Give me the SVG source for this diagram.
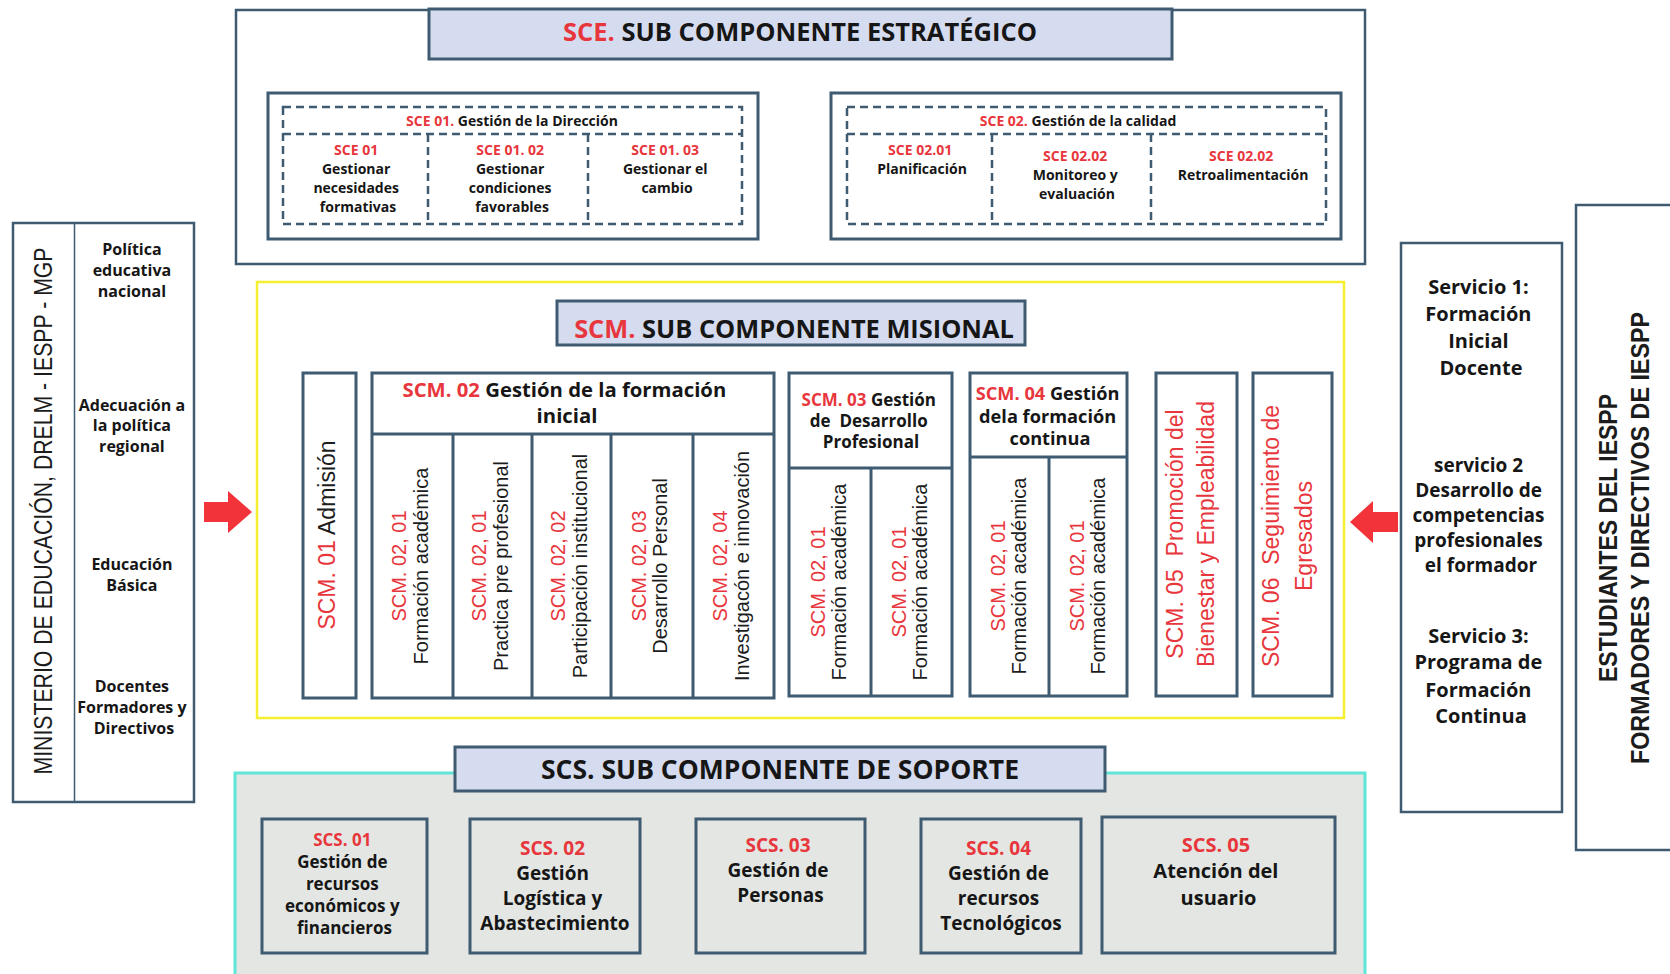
<svg xmlns="http://www.w3.org/2000/svg" width="1670" height="974" viewBox="0 0 1670 974">
  <style>
    .frame{fill:#fff;stroke:#3f5b71;stroke-width:3}
    .thin{fill:#fff;stroke:#3f5b71;stroke-width:2.5}
    .head{fill:#d6dcf0;stroke:#3f5b71;stroke-width:3}
    .gray{fill:#e3e6e2;stroke:#3f5b71;stroke-width:3}
    .dash{fill:none;stroke:#3f5b71;stroke-width:2.5;stroke-dasharray:8 5}
    .sep{stroke:#3f5b71;stroke-width:3}
    .b{font-family:"Open Sans","DejaVu Sans",sans-serif;font-weight:700;fill:#161616;text-anchor:middle}
    .v{font-family:"Liberation Sans",Arial,sans-serif;fill:#1c1c1c;text-anchor:middle}
    .r{fill:#e8363d}
    .arrow{fill:#f2333a}
  </style>

  <!-- Estratégico -->
  <g id="sce">
    <rect x="236" y="10" width="1129" height="254" class="thin"/>
    <rect x="429" y="9" width="743" height="50" class="head"/>
    <text x="800" y="41" class="b" font-size="25.5"><tspan class="r">SCE.</tspan> SUB COMPONENTE ESTRATÉGICO</text>
  </g>

  <g id="sce01">
    <rect x="268" y="93" width="490" height="146" class="frame"/>
    <rect x="283" y="107" width="459" height="117" class="dash"/>
    <line x1="283" y1="134" x2="742" y2="134" class="dash"/>
    <line x1="428" y1="134" x2="428" y2="224" class="dash"/>
    <line x1="588" y1="134" x2="588" y2="224" class="dash"/>
    <text x="512" y="126" class="b" font-size="14"><tspan class="r">SCE 01.</tspan> Gestión de la Dirección</text>
    <text class="b" font-size="14">
      <tspan x="358" y="155" class="r">SCE 01</tspan>
      <tspan x="358" y="174">Gestionar</tspan>
      <tspan x="358" y="193">necesidades</tspan>
      <tspan x="358" y="212">formativas</tspan>
    </text>
    <text class="b" font-size="14">
      <tspan x="512" y="155" class="r">SCE 01. 02</tspan>
      <tspan x="512" y="174">Gestionar</tspan>
      <tspan x="512" y="193">condiciones</tspan>
      <tspan x="512" y="212">favorables</tspan>
    </text>
    <text class="b" font-size="14">
      <tspan x="667" y="155" class="r">SCE 01. 03</tspan>
      <tspan x="667" y="174">Gestionar el</tspan>
      <tspan x="667" y="193">cambio</tspan>
    </text>
  </g>

  <g id="sce02">
    <rect x="831" y="93" width="510" height="146" class="frame"/>
    <rect x="847" y="107" width="479" height="117" class="dash"/>
    <line x1="847" y1="134" x2="1326" y2="134" class="dash"/>
    <line x1="992" y1="134" x2="992" y2="224" class="dash"/>
    <line x1="1151" y1="134" x2="1151" y2="224" class="dash"/>
    <text x="1078" y="126" class="b" font-size="14"><tspan class="r">SCE 02.</tspan> Gestión de la calidad</text>
    <text class="b" font-size="14">
      <tspan x="922" y="155" class="r">SCE 02.01</tspan>
      <tspan x="922" y="174">Planificación</tspan>
    </text>
    <text class="b" font-size="14">
      <tspan x="1077" y="161" class="r">SCE 02.02</tspan>
      <tspan x="1077" y="180">Monitoreo y</tspan>
      <tspan x="1077" y="199">evaluación</tspan>
    </text>
    <text class="b" font-size="14">
      <tspan x="1243" y="161" class="r">SCE 02.02</tspan>
      <tspan x="1243" y="180">Retroalimentación</tspan>
    </text>
  </g>

  <!-- Misional -->
  <g id="scm">
    <rect x="257" y="282" width="1087" height="436" fill="#fff" stroke="#f5ef2f" stroke-width="2.5"/>
    <rect x="557" y="301" width="468" height="44" class="head"/>
    <text x="794" y="338" class="b" font-size="25.4"><tspan class="r">SCM.</tspan> SUB COMPONENTE MISIONAL</text>
  </g>

  <g id="scm01">
    <rect x="303" y="373" width="53" height="325" class="frame"/>
    <g transform="translate(329,535) rotate(-90)">
      <text y="6" class="v" font-size="23"><tspan class="r">SCM. 01</tspan> Admisión</text>
    </g>
  </g>

  <g id="scm02">
    <rect x="372" y="373" width="402" height="325" class="frame"/>
    <line x1="372" y1="434" x2="774" y2="434" class="sep"/>
    <line x1="453" y1="434" x2="453" y2="698" class="sep"/>
    <line x1="532" y1="434" x2="532" y2="698" class="sep"/>
    <line x1="611" y1="434" x2="611" y2="698" class="sep"/>
    <line x1="693" y1="434" x2="693" y2="698" class="sep"/>
    <text class="b" font-size="20.3">
      <tspan x="567" y="397"><tspan class="r">SCM. 02</tspan> Gestión de la formación</tspan>
      <tspan x="567" y="423">inicial</tspan>
    </text>
    <g transform="translate(412.5,566) rotate(-90)" class="v" font-size="20">
      <text y="-6.5" class="r">SCM. 02, 01</text>
      <text y="15">Formación académica</text>
    </g>
    <g transform="translate(492.5,566) rotate(-90)" class="v" font-size="20">
      <text y="-6.5" class="r">SCM. 02, 01</text>
      <text y="15">Practica pre profesional</text>
    </g>
    <g transform="translate(571.5,566) rotate(-90)" class="v" font-size="20">
      <text y="-6.5" class="r">SCM. 02, 02</text>
      <text y="15">Participación institucional</text>
    </g>
    <g transform="translate(652,566) rotate(-90)" class="v" font-size="20">
      <text y="-6.5" class="r">SCM. 02, 03</text>
      <text y="15">Desarrollo Personal</text>
    </g>
    <g transform="translate(733.5,566) rotate(-90)" class="v" font-size="20">
      <text y="-6.5" class="r">SCM. 02, 04</text>
      <text y="15">Investigacón e innovación</text>
    </g>
  </g>

  <g id="scm03">
    <rect x="789" y="373" width="163" height="323" class="frame"/>
    <line x1="789" y1="468" x2="952" y2="468" class="sep"/>
    <line x1="871" y1="468" x2="871" y2="696" class="sep"/>
    <text class="b" font-size="17">
      <tspan x="871" y="406"><tspan class="r">SCM. 03</tspan> Gestión</tspan>
      <tspan x="871" y="427">de&#160; Desarrollo</tspan>
      <tspan x="871" y="448">Profesional</tspan>
    </text>
    <g transform="translate(830,582) rotate(-90)" class="v" font-size="20">
      <text y="-5" class="r">SCM. 02, 01</text>
      <text y="16">Formación académica</text>
    </g>
    <g transform="translate(911,582) rotate(-90)" class="v" font-size="20">
      <text y="-5" class="r">SCM. 02, 01</text>
      <text y="16">Formación académica</text>
    </g>
  </g>

  <g id="scm04">
    <rect x="970" y="373" width="157" height="323" class="frame"/>
    <line x1="970" y1="457" x2="1127" y2="457" class="sep"/>
    <line x1="1049" y1="457" x2="1049" y2="696" class="sep"/>
    <text class="b" font-size="18.2">
      <tspan x="1050" y="400"><tspan class="r">SCM. 04</tspan> Gestión</tspan>
      <tspan x="1050" y="423">dela formación</tspan>
      <tspan x="1050" y="445">continua</tspan>
    </text>
    <g transform="translate(1009.5,576) rotate(-90)" class="v" font-size="20">
      <text y="-5" class="r">SCM. 02, 01</text>
      <text y="16">Formación académica</text>
    </g>
    <g transform="translate(1088.5,576) rotate(-90)" class="v" font-size="20">
      <text y="-5" class="r">SCM. 02, 01</text>
      <text y="16">Formación académica</text>
    </g>
  </g>

  <g id="scm05">
    <rect x="1156" y="373" width="81" height="323" class="frame"/>
    <g transform="translate(1196.5,534) rotate(-90)" class="v" font-size="23">
      <text y="-14" class="r">SCM. 05&#160; Promoción del</text>
      <text y="17" class="r">Bienestar y Empleabilidad</text>
    </g>
  </g>

  <g id="scm06">
    <rect x="1253" y="373" width="79" height="323" class="frame"/>
    <g transform="translate(1292.5,536) rotate(-90)" class="v" font-size="23">
      <text y="-14" class="r">SCM. 06&#160; Seguimiento de</text>
      <text y="19" class="r">Egresados</text>
    </g>
  </g>

  <!-- Soporte -->
  <g id="scs">
    <rect x="235" y="773" width="1130" height="230" fill="#e3e6e2" stroke="#5fe6d9" stroke-width="3"/>
    <rect x="455" y="747" width="650" height="44" class="head"/>
    <text x="780" y="779" class="b" font-size="26.5">SCS. SUB COMPONENTE DE SOPORTE</text>
  </g>

  <g id="scs01">
    <rect x="262" y="819" width="165" height="134" class="gray"/>
    <text class="b" font-size="17">
      <tspan x="344.5" y="846" class="r">SCS. 01</tspan>
      <tspan x="344.5" y="868">Gestión de</tspan>
      <tspan x="344.5" y="890">recursos</tspan>
      <tspan x="344.5" y="912">económicos y</tspan>
      <tspan x="344.5" y="934">financieros</tspan>
    </text>
  </g>
  <g id="scs02">
    <rect x="470" y="819" width="170" height="134" class="gray"/>
    <text class="b" font-size="19">
      <tspan x="555" y="855" class="r">SCS. 02</tspan>
      <tspan x="555" y="880">Gestión</tspan>
      <tspan x="555" y="905">Logística y</tspan>
      <tspan x="555" y="930">Abastecimiento</tspan>
    </text>
  </g>
  <g id="scs03">
    <rect x="696" y="819" width="169" height="134" class="gray"/>
    <text class="b" font-size="19">
      <tspan x="780.5" y="852" class="r">SCS. 03</tspan>
      <tspan x="780.5" y="877">Gestión de</tspan>
      <tspan x="780.5" y="902">Personas</tspan>
    </text>
  </g>
  <g id="scs04">
    <rect x="921" y="819" width="160" height="134" class="gray"/>
    <text class="b" font-size="19">
      <tspan x="1001" y="855" class="r">SCS. 04</tspan>
      <tspan x="1001" y="880">Gestión de</tspan>
      <tspan x="1001" y="905">recursos</tspan>
      <tspan x="1001" y="930">Tecnológicos</tspan>
    </text>
  </g>
  <g id="scs05">
    <rect x="1102" y="817" width="233" height="136" class="gray"/>
    <text class="b" font-size="20">
      <tspan x="1218.5" y="852" class="r">SCS. 05</tspan>
      <tspan x="1218.5" y="878">Atención del</tspan>
      <tspan x="1218.5" y="905">usuario</tspan>
    </text>
  </g>

  <!-- Entradas -->
  <g id="entradas">
    <rect x="13" y="223" width="181" height="579" class="thin"/>
    <line x1="74.5" y1="223" x2="74.5" y2="802" stroke="#3f5b71" stroke-width="1.5"/>
    <g transform="translate(43,511) rotate(-90)">
      <text y="8.5" class="v" font-size="25" textLength="527" lengthAdjust="spacingAndGlyphs">MINISTERIO DE EDUCACIÓN, DRELM - IESPP - MGP</text>
    </g>
    <text class="b" font-size="16">
      <tspan x="134" y="255">Política</tspan>
      <tspan x="134" y="276">educativa</tspan>
      <tspan x="134" y="297">nacional</tspan>
      <tspan x="134" y="411">Adecuación a</tspan>
      <tspan x="134" y="431">la política</tspan>
      <tspan x="134" y="452">regional</tspan>
      <tspan x="134" y="570">Educación</tspan>
      <tspan x="134" y="591">Básica</tspan>
      <tspan x="134" y="692">Docentes</tspan>
      <tspan x="134" y="713">Formadores y</tspan>
      <tspan x="134" y="734">Directivos</tspan>
    </text>
  </g>

  <!-- Servicios -->
  <g id="servicios">
    <rect x="1401" y="243" width="161" height="569" class="thin"/>
    <text class="b" font-size="20">
      <tspan x="1481" y="294">Servicio 1:</tspan>
      <tspan x="1481" y="321">Formación</tspan>
      <tspan x="1481" y="348">Inicial</tspan>
      <tspan x="1481" y="375">Docente</tspan>
    </text>
    <text class="b" font-size="19">
      <tspan x="1481" y="472">servicio 2</tspan>
      <tspan x="1481" y="497">Desarrollo de</tspan>
      <tspan x="1481" y="522">competencias</tspan>
      <tspan x="1481" y="547">profesionales</tspan>
      <tspan x="1481" y="572">el formador</tspan>
    </text>
    <text class="b" font-size="20">
      <tspan x="1481" y="643">Servicio 3:</tspan>
      <tspan x="1481" y="669">Programa de</tspan>
      <tspan x="1481" y="697">Formación</tspan>
      <tspan x="1481" y="723">Continua</tspan>
    </text>
  </g>

  <!-- Usuarios -->
  <g id="usuarios">
    <rect x="1576" y="205" width="120" height="645" class="thin"/>
    <g transform="translate(1626,538) rotate(-90)" font-weight="700">
      <text y="-9" class="v" font-size="25" textLength="288" lengthAdjust="spacingAndGlyphs">ESTUDIANTES DEL IESPP</text>
      <text y="23" class="v" font-size="25" textLength="452" lengthAdjust="spacingAndGlyphs">FORMADORES Y DIRECTIVOS DE IESPP</text>
    </g>
  </g>

  <!-- Flechas -->
  <g id="connectors">
    <polygon class="arrow" points="204,502 228,502 228,491 252,512 228,533 228,522 204,522"/>
    <polygon class="arrow" points="1398,512 1373,512 1373,501 1350,522 1373,543 1373,532 1398,532"/>
  </g>
</svg>
